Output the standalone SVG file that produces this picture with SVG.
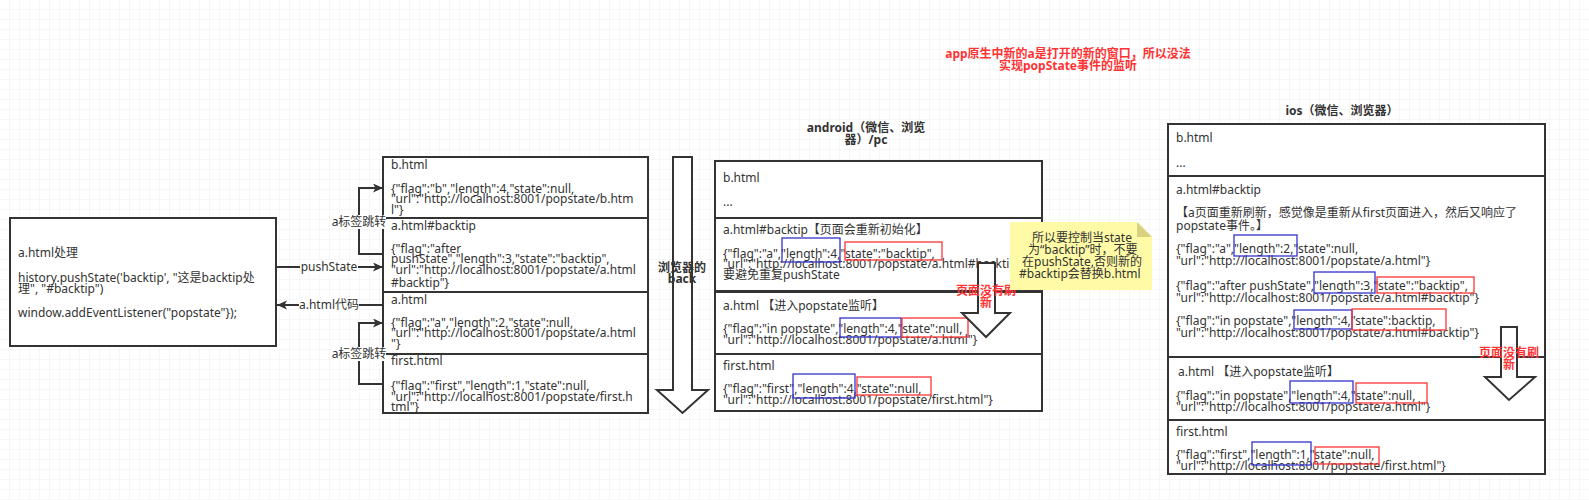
<svg xmlns="http://www.w3.org/2000/svg" width="1589" height="500" viewBox="0 0 1589 500">
<defs>
<pattern id="grid" width="10" height="10" patternUnits="userSpaceOnUse">
<path d="M10 0 V10 M0 10 H10" fill="none" stroke="#efefef" stroke-width="1"/>
</pattern>
<marker id="ah" markerWidth="10" markerHeight="10" refX="10" refY="4.5" orient="auto" markerUnits="userSpaceOnUse">
<path d="M0,0 L10,4.5 L0,9 L2.5,4.5 z" fill="#333"/>
</marker>
</defs>
<style>
.box{fill:#fff;stroke:#333;stroke-width:2}
.t{font-family:"Noto Sans","Noto Sans CJK SC",sans-serif;font-size:12px;fill:#333}
.b{font-weight:bold}
.red{fill:#ff3333}
.hb{fill:none;stroke:#3333cc;stroke-width:1.3}
.hr{fill:none;stroke:#ff3333;stroke-width:1.3}
.conn{fill:none;stroke:#333;stroke-width:2}
.arr{fill:#fff;stroke:#333;stroke-width:2;stroke-linejoin:miter}
.bg{fill:#fff}
</style>
<rect width="1589" height="500" fill="#fff"/>
<rect width="1589" height="500" fill="url(#grid)"/>

<g id="top-note">
<text class="t b red" text-anchor="middle"><tspan x="1068" y="58">app原生中新的a是打开的新的窗口，所以没法</tspan><tspan x="1068" y="70">实现popState事件的监听</tspan></text>
</g>

<g id="a-html-handler">
<rect class="box" x="10" y="218" width="266" height="128"/>
<text class="t"><tspan x="18" y="257">a.html处理</tspan><tspan x="18" y="282">history.pushState('backtip', "这是backtip处</tspan><tspan x="18" y="293">理", "#backtip")</tspan><tspan x="18" y="317">window.addEventListener("popstate"});</tspan></text>
</g>

<g id="stack-b">
<rect class="box" x="383" y="157" width="265" height="61"/>
<text class="t"><tspan x="391" y="169">b.html</tspan><tspan x="391" y="193">{"flag":"b","length":4,"state":null,</tspan><tspan x="391" y="203">"url":"http://localhost:8001/popstate/b.htm</tspan><tspan x="391" y="214">l"}</tspan></text>
</g>
<g id="stack-backtip">
<rect class="box" x="383" y="218" width="265" height="74"/>
<text class="t"><tspan x="391" y="230">a.html#backtip</tspan><tspan x="391" y="253">{"flag":"after</tspan><tspan x="391" y="263">pushState","length":3,"state":"backtip",</tspan><tspan x="391" y="274">"url":"http://localhost:8001/popstate/a.html</tspan><tspan x="391" y="287">#backtip"}</tspan></text>
</g>
<g id="stack-a">
<rect class="box" x="383" y="292" width="265" height="62"/>
<text class="t"><tspan x="391" y="304">a.html</tspan><tspan x="391" y="327">{"flag":"a","length":2,"state":null,</tspan><tspan x="391" y="337">"url":"http://localhost:8001/popstate/a.html</tspan><tspan x="391" y="348">"}</tspan></text>
</g>
<g id="stack-first">
<rect class="box" x="383" y="354" width="265" height="59"/>
<text class="t"><tspan x="391" y="365">first.html</tspan><tspan x="391" y="390">{"flag":"first","length":1,"state":null,</tspan><tspan x="391" y="401">"url":"http://localhost:8001/popstate/first.h</tspan><tspan x="391" y="411">tml"}</tspan></text>
</g>

<g id="connectors">
<path class="conn" d="M276,267 H383" marker-end="url(#ah)"/>
<path class="conn" d="M383,305 H277" marker-end="url(#ah)"/>
<path class="conn" d="M383,254 H359 V188 H383" marker-end="url(#ah)"/>
<path class="conn" d="M383,384 H359 V323 H383" marker-end="url(#ah)"/>
<rect class="bg" x="300" y="260" width="58" height="14"/>
<text class="t" x="329" y="271" text-anchor="middle">pushState</text>
<rect class="bg" x="299" y="298" width="60" height="14"/>
<text class="t" x="329" y="309" text-anchor="middle">a.html代码</text>
<rect class="bg" x="332" y="215" width="54" height="14"/>
<text class="t" x="359" y="226" text-anchor="middle">a标签跳转</text>
<rect class="bg" x="332" y="347" width="54" height="14"/>
<text class="t" x="359" y="358" text-anchor="middle">a标签跳转</text>
</g>

<g id="browser-back">
<polygon class="arr" points="673,157 692,157 692,390 708,390 682.5,413 657,390 673,390"/>
<text class="t b" text-anchor="middle"><tspan x="682" y="272">浏览器的</tspan><tspan x="682" y="283">back</tspan></text>
</g>

<g id="android-title">
<text class="t b" text-anchor="middle"><tspan x="866" y="132">android（微信、浏览</tspan><tspan x="866" y="144">器）/pc</tspan></text>
</g>
<g id="android-b">
<rect class="box" x="715" y="161" width="327" height="57"/>
<text class="t"><tspan x="723" y="182">b.html</tspan><tspan x="723" y="206">...</tspan></text>
</g>
<g id="android-backtip">
<rect class="box" x="715" y="218" width="327" height="73"/>
<text class="t"><tspan x="723" y="234">a.html#backtip【页面会重新初始化】</tspan><tspan x="723" y="258">{"flag":"a","length":4,"state":"backtip",</tspan><tspan x="723" y="268">"url":"http://localhost:8001/popstate/a.html#backtip"}</tspan><tspan x="723" y="279">要避免重复pushState</tspan></text>
<rect class="hb" x="782" y="238" width="58" height="24"/>
<rect class="hr" x="845" y="242" width="97" height="18"/>
</g>
<g id="android-a">
<rect class="box" x="715" y="292" width="327" height="62"/>
<text class="t"><tspan x="723" y="310">a.html 【进入popstate监听】</tspan><tspan x="723" y="333">{"flag":"in popstate","length":4,"state":null,</tspan><tspan x="723" y="344">"url":"http://localhost:8001/popstate/a.html"}</tspan></text>
<rect class="hb" x="840" y="318" width="61" height="19"/>
<rect class="hr" x="902" y="318" width="66" height="19"/>
</g>
<g id="android-first">
<rect class="box" x="715" y="354" width="327" height="57"/>
<text class="t"><tspan x="723" y="370">first.html</tspan><tspan x="723" y="393">{"flag":"first","length":4,"state":null,</tspan><tspan x="723" y="404">"url":"http://localhost:8001/popstate/first.html"}</tspan></text>
<rect class="hb" x="793" y="374" width="62" height="24"/>
<rect class="hr" x="857" y="377" width="74" height="18"/>
</g>
<g id="android-no-refresh">
<polygon class="arr" points="978,263 995,263 995,313 1010,313 986,337 962,313 978,313"/>
<text class="t b red" text-anchor="middle"><tspan x="986" y="295">页面没有刷</tspan><tspan x="986" y="307">新</tspan></text>
</g>

<g id="sticky-note">
<polygon points="1010,222 1137,222 1152,237 1152,290 1010,290" fill="#fffaa6"/>
<polygon points="1137,222 1137,237 1152,237" fill="#d8d27e"/>
<text class="t"><tspan x="1032" y="242">所以要控制当state</tspan><tspan x="1028" y="254">为“backtip”时，不要</tspan><tspan x="1022" y="266">在pushState,否则新的</tspan><tspan x="1019" y="278">#backtip会替换b.html</tspan></text>
</g>

<g id="ios-title">
<text class="t b" x="1342" y="115" text-anchor="middle">ios（微信、浏览器）</text>
</g>
<g id="ios-b">
<rect class="box" x="1168" y="124" width="377" height="52"/>
<text class="t"><tspan x="1176" y="142">b.html</tspan><tspan x="1176" y="167">...</tspan></text>
</g>
<g id="ios-backtip">
<rect class="box" x="1168" y="176" width="377" height="181"/>
<text class="t"><tspan x="1176" y="194">a.html#backtip</tspan><tspan x="1176" y="217">【a页面重新刷新，感觉像是重新从first页面进入，然后又响应了</tspan><tspan x="1176" y="230">popstate事件。】</tspan><tspan x="1176" y="253">{"flag":"a","length":2,"state":null,</tspan><tspan x="1176" y="265">"url":"http://localhost:8001/popstate/a.html"}</tspan><tspan x="1176" y="290">{"flag":"after pushState","length":3,"state":"backtip",</tspan><tspan x="1176" y="302">"url":"http://localhost:8001/popstate/a.html#backtip"}</tspan><tspan x="1176" y="325">{"flag":"in popstate","length":4,"state":backtip,</tspan><tspan x="1176" y="337">"url":"http://localhost:8001/popstate/a.html#backtip"}</tspan></text>
<rect class="hb" x="1234" y="235" width="63" height="21"/>
<rect class="hb" x="1314" y="272" width="61" height="21"/>
<rect class="hr" x="1377" y="277" width="97" height="16"/>
<rect class="hb" x="1294" y="310" width="58" height="19"/>
<rect class="hr" x="1352" y="309" width="94" height="21"/>
</g>
<g id="ios-a">
<rect class="box" x="1168" y="357" width="377" height="63"/>
<text class="t"><tspan x="1178" y="376">a.html 【进入popstate监听】</tspan><tspan x="1176" y="400">{"flag":"in popstate","length":4,"state":null,</tspan><tspan x="1176" y="411">"url":"http://localhost:8001/popstate/a.html"}</tspan></text>
<rect class="hb" x="1290" y="381" width="63" height="22"/>
<rect class="hr" x="1356" y="383" width="71" height="20"/>
</g>
<g id="ios-first">
<rect class="box" x="1168" y="420" width="377" height="54"/>
<text class="t"><tspan x="1176" y="436">first.html</tspan><tspan x="1176" y="459">{"flag":"first","length":1,"state":null,</tspan><tspan x="1176" y="470">"url":"http://localhost:8001/popstate/first.html"}</tspan></text>
<rect class="hb" x="1252" y="442" width="59" height="23"/>
<rect class="hr" x="1315" y="447" width="64" height="17"/>
</g>
<g id="ios-no-refresh">
<polygon class="arr" points="1501,327 1517,327 1517,377 1535,377 1509,400 1485,377 1501,377"/>
<text class="t b red" text-anchor="middle"><tspan x="1509" y="357">页面没有刷</tspan><tspan x="1509" y="369">新</tspan></text>
</g>
</svg>
